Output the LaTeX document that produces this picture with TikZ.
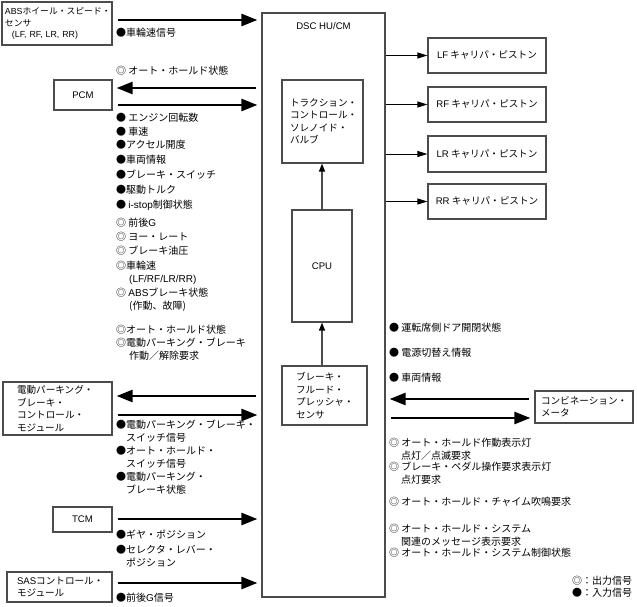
\documentclass[tikz,border=0pt]{standalone}
\usepackage{fontspec}
\setmainfont{Noto Sans CJK JP}
\newfontfamily\lat{Liberation Sans}
\usetikzlibrary{arrows.meta,positioning}

\tikzset{
  box/.style={draw=black!70, line width=1.2pt, inner sep=0pt, font=\fontsize{9.6}{12.5}\selectfont},
  sig/.style={anchor=west, inner sep=0pt, font=\fontsize{10}{12.5}\selectfont},
  sigm/.style={sig, anchor=north west, align=left},
  bigarrow/.style={-{Triangle[length=16pt,width=12pt]}, line width=2.5pt, shorten <=5pt, shorten >=4pt},
  thinarrow/.style={-{Triangle[length=10pt,width=6pt]}, line width=0.9pt},
  uparrow/.style={-{Triangle[length=8pt,width=6pt,color=black]}, draw=black!70, line width=1.4pt},
}

\begin{document}
\begin{tikzpicture}[x=1pt,y=-1pt]
\useasboundingbox (0,0) rectangle (637,607);

% unita' a sinistra
\node[box, minimum width=110pt, minimum height=43pt, text width=104pt, align=left, font=\fontsize{8.8}{11.5}\selectfont] (abs) at (57,23.5) {{\lat ABS}ホイール・スピード・\\センサ\\\hspace*{7pt}{\lat (LF, RF, LR, RR)}};
\node[box, minimum width=58pt, minimum height=30pt] (pcm) at (83,95) {\lat PCM};
\node[box, minimum width=109pt, minimum height=53pt, text width=81pt, align=left] (epb) at (57.5,408.5) {電動パーキング・\\ブレーキ・\\コントロール・\\モジュール};
\node[box, minimum width=59pt, minimum height=25pt] (tcm) at (82.5,519.5) {\lat TCM};
\node[box, minimum width=105pt, minimum height=30pt, text width=85pt, align=left] (sas) at (59.5,587) {{\lat SAS}コントロール・\\モジュール};

% centralina DSC
\node[box, minimum width=123pt, minimum height=584pt] (dsc) at (323.5,305) {};
\node[inner sep=0pt, font=\fontsize{9.6}{12.5}\selectfont\lat] (dsctitle) at (323.5,26) {DSC HU/CM};
\node[box, minimum width=81pt, minimum height=83pt, text width=65pt, align=left] (tcs) at (322.5,121.5) {トラクション・\\コントロール・\\ソレノイド・\\バルブ};
\node[box, minimum width=60pt, minimum height=112pt] (cpu) at (322,266) {\lat CPU};
\node[box, minimum width=85pt, minimum height=59pt, text width=57pt, align=left] (bfps) at (324.5,395.5) {ブレーキ・\\フルード・\\プレッシャ・\\センサ};
\draw[uparrow] (cpu.north) -- (cpu.north |- tcs.south);
\draw[uparrow] (cpu.south |- bfps.north) -- (cpu.south);

% pinze
\node[box, minimum width=118pt, minimum height=35pt] (lf) at (487,55.5) {{\lat LF} キャリパ・ピストン};
\node[box, minimum width=118pt, minimum height=35pt] (rf) at (487,104.5) {{\lat RF} キャリパ・ピストン};
\node[box, minimum width=118pt, minimum height=36pt] (lr) at (487,154) {{\lat LR} キャリパ・ピストン};
\node[box, minimum width=118pt, minimum height=35pt] (rr) at (487,201.5) {{\lat RR} キャリパ・ピストン};
\draw[thinarrow] (dsc.east |- lf) -- (lf.west);
\draw[thinarrow] (dsc.east |- rf) -- (rf.west);
\draw[thinarrow] (dsc.east |- lr) -- (lr.west);
\draw[thinarrow] (dsc.east |- rr) -- (rr.west);

% quadro strumenti
\node[box, minimum width=98pt, minimum height=32pt, text width=86pt, align=left] (meter) at (584,407) {コンビネーション・\\メータ};

% frecce grosse
\draw[bigarrow] (abs.east |- 0,20) -- (dsc.west |- 0,20);
\draw[bigarrow] (dsc.west |- 0,88) -- (pcm.east |- 0,88);
\draw[bigarrow] (pcm.east |- 0,105) -- (dsc.west |- 0,105);
\draw[bigarrow] (dsc.west |- 0,396) -- (epb.east |- 0,396);
\draw[bigarrow] (epb.east |- 0,415) -- (dsc.west |- 0,415);
\draw[bigarrow] (tcm.east |- 0,519) -- (dsc.west |- 0,519);
\draw[bigarrow] (sas.east |- 0,583) -- (dsc.west |- 0,583);
\draw[bigarrow] (meter.west |- 0,399) -- (dsc.east |- 0,399);
\draw[bigarrow] (dsc.east |- 0,418) -- (meter.west |- 0,418);

% segnali a sinistra
\node[sig] (sabs) at (116,33) {●車輪速信号};
\node[sig] (spcmout) at (116,71) {◎ オート・ホールド状態};
\node[sig] (sne) at (116,118) {● エンジン回転数};
\node[sig] (sspd) at (116,132) {● 車速};
\node[sig] (sacc) at (116,145) {●アクセル開度};
\node[sig] (sveh) at (116,160) {●車両情報};
\node[sig] (sbsw) at (116,175) {●ブレーキ・スイッチ};
\node[sig] (strq) at (116,190) {●駆動トルク};
\node[sig] (sistop) at (116,205) {● {\lat i-stop}制御状態};
\node[sig] (sgx) at (116,223) {◎ 前後{\lat G}};
\node[sig] (syaw) at (116,237) {◎ ヨー・レート};
\node[sig] (spres) at (116,251) {◎ ブレーキ油圧};
\node[sigm] (swhl) at (116,261) {◎車輪速\\\hspace*{13pt}{\lat (LF/RF/LR/RR)}};
\node[sigm] (sabsst) at (116,288) {◎ {\lat ABS}ブレーキ状態\\\hspace*{13pt}(作動、故障)};
\node[sig] (sahold) at (116,330) {◎オート・ホールド状態};
\node[sigm] (sepbreq) at (116,338) {◎電動パーキング・ブレーキ\\\hspace*{13pt}作動／解除要求};

\node[sigm] (sepbsw) at (116,420) {●電動パーキング・ブレーキ・\\\hspace*{10pt}スイッチ信号};
\node[sigm] (sahsw) at (116,446) {●オート・ホールド・\\\hspace*{10pt}スイッチ信号};
\node[sigm] (sepbst) at (116,472) {●電動パーキング・\\\hspace*{10pt}ブレーキ状態};
\node[sig] (sgear) at (116,535) {●ギヤ・ポジション};
\node[sigm] (ssel) at (116,545) {●セレクタ・レバー・\\\hspace*{10pt}ポジション};
\node[sig] (sgsas) at (116,598) {●前後{\lat G}信号};

% segnali a destra
\node[sig] (sdoor) at (389,328) {● 運転席側ドア開閉状態};
\node[sig] (spwr) at (389,353) {● 電源切替え情報};
\node[sig] (sveh2) at (389,378) {● 車両情報};
\node[sigm] (sahlamp) at (389,438) {◎ オート・ホールド作動表示灯\\\hspace*{12pt}点灯／点滅要求};
\node[sigm] (spedal) at (389,462) {◎ ブレーキ・ペダル操作要求表示灯\\\hspace*{12pt}点灯要求};
\node[sig] (schime) at (389,502) {◎ オート・ホールド・チャイム吹鳴要求};
\node[sigm] (smsg) at (389,524) {◎ オート・ホールド・システム\\\hspace*{12pt}関連のメッセージ表示要求};
\node[sig] (sahst) at (389,553) {◎ オート・ホールド・システム制御状態};

% legenda
\node[sig] (legout) at (572,581) {◎：出力信号};
\node[sig] (legin) at (572,593) {●：入力信号};
\end{tikzpicture}
\end{document}
